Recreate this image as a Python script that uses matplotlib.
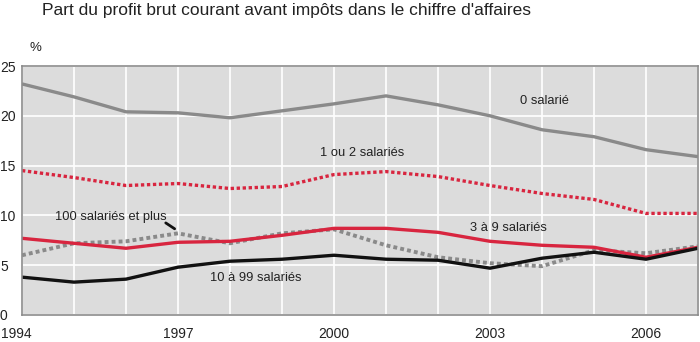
import numpy as np
import matplotlib.pyplot as plt
from matplotlib.transforms import ScaledTranslation

plt.rcParams['font.family'] = ['Liberation Sans Narrow', 'Liberation Sans', 'DejaVu Sans']

years = np.arange(1994, 2008)
zero_sal = [23.2, 21.9, 20.4, 20.3, 19.8, 20.5, 21.2, 22.0, 21.1, 20.0, 18.6, 17.9, 16.6, 15.9]
un_deux = [14.5, 13.8, 13.0, 13.2, 12.7, 12.9, 14.1, 14.4, 13.9, 13.0, 12.2, 11.6, 10.2, 10.2]
trois_neuf = [7.7, 7.2, 6.7, 7.3, 7.4, 8.0, 8.7, 8.7, 8.3, 7.4, 7.0, 6.8, 5.8, 6.8]
dix_99 = [3.8, 3.3, 3.6, 4.8, 5.4, 5.6, 6.0, 5.6, 5.5, 4.7, 5.7, 6.3, 5.6, 6.7]
cent_plus = [6.0, 7.2, 7.4, 8.2, 7.2, 8.2, 8.6, 7.0, 5.8, 5.2, 4.9, 6.5, 6.2, 6.9]

x_ticks = [1994, 1997, 2000, 2003, 2006]
y_ticks = [0, 5, 10, 15, 20, 25]

grey = '#8a8a8a'
red = '#d8253f'

fig = plt.figure(figsize=(7, 3.42), dpi=100)
ax = fig.add_axes([22/700, 27/342, 676/700, 249/342])
ax.set_facecolor('#dcdcdc')

ax.plot(years, zero_sal, color=grey, lw=2.4, solid_capstyle='butt')
ax.plot(years, un_deux, color=red, lw=2.4, ls=(0, (1.0, 0.8)))
ax.plot(years, cent_plus, color=grey, lw=2.8, ls=(0, (1.0, 0.8)))
ax.plot(years, trois_neuf, color=red, lw=2.4)
ax.plot(years, dix_99, color='#111111', lw=2.4)

ax.set_xlim(1994, 2007)
ax.set_ylim(0, 25)
ax.set_xticks(np.arange(1994, 2008))
ax.set_xticklabels([str(y) if y in x_ticks else '' for y in range(1994, 2008)])
ax.set_yticks(y_ticks)
ax.grid(True, color='white', lw=1.2)
ax.set_axisbelow(True)
ax.tick_params(length=0, labelsize=10, colors='#222222')
ax.tick_params(axis='x', pad=9)
for lab in ax.get_yticklabels():
    lab.set_horizontalalignment('left')
    lab.set_x(-22/676)
ax.tick_params(axis='y', pad=0)
# first year label sits flush with the left edge of the figure
first = ax.get_xticklabels()[0]
first.set_horizontalalignment('left')
first.set_transform(first.get_transform() + ScaledTranslation(-21/100, 0, fig.dpi_scale_trans))
for s in ax.spines.values():
    s.set_color('#8c8c8c')
    s.set_linewidth(1.2)

kw = dict(fontsize=9.3, color='#222222', ha='center', va='center')
ax.text(2004.05, 21.5, '0 salarié', **kw)
ax.text(2000.55, 16.3, '1 ou 2 salariés', **kw)
ax.text(2003.35, 8.7, '3 à 9 salariés', **kw)
ax.text(1998.5, 3.7, '10 à 99 salariés', **kw)
ax.text(1995.7, 9.8, '100 salariés et plus', **kw)
ax.annotate('', xy=(1996.98, 8.5), xytext=(1996.72, 9.4),
            arrowprops=dict(arrowstyle='-', color='#111111', lw=2))

fig.text(42/700, 1 - 11/342, "Part du profit brut courant avant impôts dans le chiffre d'affaires",
         fontsize=12.5, color='#222222', va='center', ha='left')
fig.text(35/700, 1 - 48/342, '%', fontsize=9.5, color='#222222', va='center', ha='center')

fig.savefig('out.png', dpi=100)
